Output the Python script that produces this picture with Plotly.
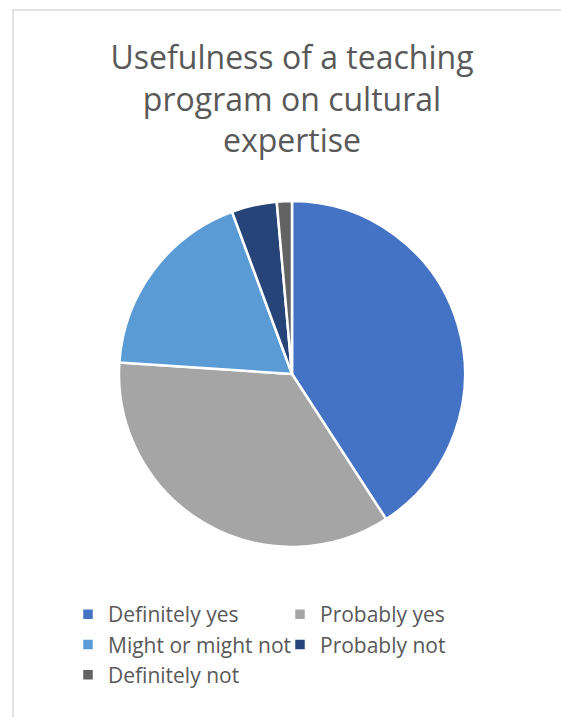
import plotly.graph_objects as go

categories = ["Definitely yes", "Probably yes", "Might or might not", "Probably not", "Definitely not"]
counts = [29, 25, 13, 3, 1]
colors = ["#4472C4", "#A5A5A5", "#5B9BD5", "#264478", "#636363"]
title_text = "Usefulness of a teaching<br>program on cultural<br>expertise"

W, H = 561, 717
cx, cy, r = 292, 374, 173

fig = go.Figure(go.Pie(
    labels=categories,
    values=counts,
    marker=dict(colors=colors, line=dict(color="white", width=2.5)),
    sort=False,
    direction="clockwise",
    rotation=0,
    textinfo="none",
    hoverinfo="label+value+percent",
    domain=dict(x=[(cx - r) / W, (cx + r) / W], y=[(H - cy - r) / H, (H - cy + r) / H]),
))

fig.update_layout(
    width=W, height=H,
    margin=dict(l=0, r=0, t=0, b=0),
    paper_bgcolor="white",
    font=dict(family="Open Sans, sans-serif", color="#595959"),
    title=dict(text=title_text, x=cx / W, xanchor="center", y=1 - 69 / H, yanchor="top",
               font=dict(size=32, color="#595959")),
    legend=dict(orientation="h", x=68 / W, xanchor="left", y=(H - 594) / H, yanchor="top",
                entrywidth=167, entrywidthmode="pixels",
                font=dict(size=21, color="#595959"), bgcolor="rgba(0,0,0,0)"),
    shapes=[dict(type="rect", xref="paper", yref="paper", x0=13 / W, x1=1.05, y0=-0.05, y1=1 - 10 / H,
                 line=dict(color="#D9D9D9", width=1.5), layer="below")],
)

fig.write_html("out.html", config={"displayModeBar": False},
               post_script="document.body.style.margin='0';")
